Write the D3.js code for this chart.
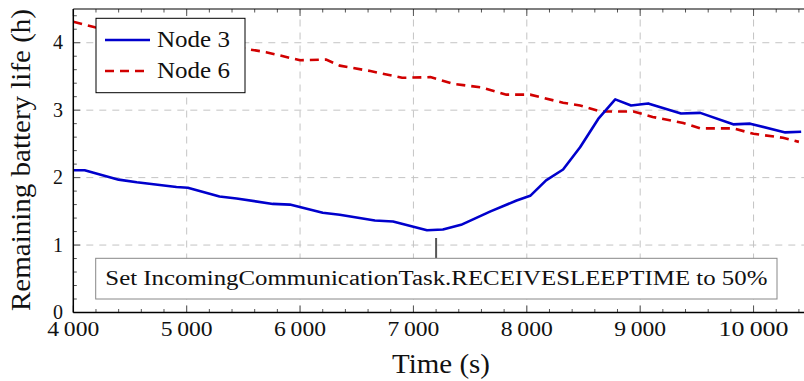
<!DOCTYPE html>
<html>
<head>
<meta charset="utf-8">
<script src="https://cdn.jsdelivr.net/npm/d3@7.9.0/dist/d3.min.js"></script>
<style>
  body { margin: 0; background: #fff; }
  svg { display: block; font-family: "Liberation Serif", serif; }
</style>
</head>
<body>
<svg id="chart" width="804" height="381"></svg>
<script>
// data (time in s, battery life in h)
const node3Time = [4000, 4100, 4400, 4560, 4910, 5010, 5290, 5440, 5760, 5910, 6200, 6350,
  6660, 6820, 7120, 7260, 7420, 7680, 7910, 8030, 8170, 8320, 8470, 8630, 8780, 8920,
  9070, 9360, 9530, 9820, 9970, 10280, 10420];
const node3Life = [2.11, 2.11, 1.97, 1.93, 1.86, 1.85, 1.72, 1.69, 1.61, 1.60, 1.48, 1.45,
  1.365, 1.35, 1.22, 1.23, 1.30, 1.50, 1.66, 1.73, 1.96, 2.12, 2.45, 2.87, 3.16, 3.07,
  3.10, 2.95, 2.96, 2.79, 2.80, 2.67, 2.68];

const node6Time = [4000, 4190, 4500, 4700, 5000, 5200, 5520, 5700, 6000, 6230, 6350, 6620,
  6900, 7150, 7350, 7590, 7820, 8030, 8320, 8470, 8650, 8940, 9110, 9380, 9530, 9820,
  10000, 10260, 10400];
const node6Life = [4.31, 4.23, 4.16, 4.12, 4.04, 4.00, 3.91, 3.86, 3.74, 3.75, 3.66, 3.58,
  3.48, 3.49, 3.39, 3.34, 3.23, 3.23, 3.11, 3.07, 2.98, 2.98, 2.90, 2.81, 2.73, 2.73,
  2.65, 2.59, 2.53];

const seriesNames = ["Node 3", "Node 6"];
const xTicks = [4000, 5000, 6000, 7000, 8000, 9000, 10000];
const yTicks = [0, 1, 2, 3, 4];
const noteTime = 7200;
const noteText = "Set IncomingCommunicationTask.RECEIVESLEEPTIME to 50%";

const svg = d3.select("#chart");
const x = d3.scaleLinear().domain([4000, 10445]).range([73.3, 804]);
const y = d3.scaleLinear().domain([0, 4.5]).range([312.5, 9]);

const loc = d3.formatLocale({ decimal: ".", thousands: "\u2009", grouping: [3], currency: ["", ""] });
const fmt = loc.format(",d");

const minorX = d3.range(4000, 10445, 200).filter(d => d % 1000 !== 0);
const minorY = d3.range(0, 4.5, 0.2).map(d => +d.toFixed(1)).filter(d => d % 1 !== 0);

// grid
const grid = svg.append("g").attr("stroke", "#c4c4c4").attr("stroke-width", 1).attr("stroke-dasharray", "7,6");
xTicks.slice(1).forEach(t => {
  grid.append("line").attr("x1", x(t)).attr("x2", x(t)).attr("y1", y(0)).attr("y2", y(4.5));
});
yTicks.slice(1).forEach(t => {
  grid.append("line").attr("x1", x(4000)).attr("x2", 804).attr("y1", y(t)).attr("y2", y(t));
});

// ticks (inward)
const ticks = svg.append("g").attr("stroke", "#555").attr("stroke-width", 1);
xTicks.forEach(t => {
  ticks.append("line").attr("x1", x(t)).attr("x2", x(t)).attr("y1", y(0)).attr("y2", y(0) - 7);
  ticks.append("line").attr("x1", x(t)).attr("x2", x(t)).attr("y1", y(4.5)).attr("y2", y(4.5) + 7);
});
minorX.forEach(t => {
  ticks.append("line").attr("x1", x(t)).attr("x2", x(t)).attr("y1", y(0)).attr("y2", y(0) - 3.5);
  ticks.append("line").attr("x1", x(t)).attr("x2", x(t)).attr("y1", y(4.5)).attr("y2", y(4.5) + 3.5);
});
yTicks.forEach(t => {
  ticks.append("line").attr("x1", x(4000)).attr("x2", x(4000) + 7).attr("y1", y(t)).attr("y2", y(t));
});
minorY.forEach(t => {
  ticks.append("line").attr("x1", x(4000)).attr("x2", x(4000) + 3.5).attr("y1", y(t)).attr("y2", y(t));
});

// lines
const line = d3.line().x(d => x(d[0])).y(d => y(d[1]));
const n6 = node6Time.map((t, i) => [t, node6Life[i]]);
const n3 = node3Time.map((t, i) => [t, node3Life[i]]);

svg.append("path").datum(n6).attr("d", line).attr("fill", "none")
  .attr("stroke", "#d10000").attr("stroke-width", 2.6).attr("stroke-dasharray", "9,6");
svg.append("path").datum(n3).attr("d", line).attr("fill", "none")
  .attr("stroke", "#0000cc").attr("stroke-width", 2.6).attr("stroke-linejoin", "round");

// axes frame
svg.append("line").attr("x1", x(4000)).attr("x2", 804).attr("y1", y(0)).attr("y2", y(0)).attr("stroke", "#000").attr("stroke-width", 1.5);
svg.append("line").attr("x1", x(4000)).attr("x2", 804).attr("y1", y(4.5)).attr("y2", y(4.5)).attr("stroke", "#000").attr("stroke-width", 1.2);
svg.append("line").attr("x1", x(4000)).attr("x2", x(4000)).attr("y1", y(0)).attr("y2", y(4.5)).attr("stroke", "#000").attr("stroke-width", 1.5);

// tick labels
svg.append("g").selectAll("text").data(xTicks).join("text")
  .attr("x", d => x(d)).attr("y", 336).attr("text-anchor", "middle")
  .attr("font-size", 20).attr("fill", "#111")
  .attr("textLength", d => d >= 10000 ? 70 : 52).attr("lengthAdjust", "spacingAndGlyphs")
  .text(d => fmt(d));
svg.append("g").selectAll("text").data(yTicks).join("text")
  .attr("x", 63).attr("y", d => y(d) + 6.5).attr("text-anchor", "end")
  .attr("font-size", 20).attr("fill", "#111").text(d => d);

// axis titles
svg.append("text").attr("x", 441).attr("y", 373).attr("text-anchor", "middle")
  .attr("font-size", 27).attr("fill", "#111")
  .attr("textLength", 98).attr("lengthAdjust", "spacingAndGlyphs").text("Time (s)");
svg.append("text").attr("transform", "translate(30,160) rotate(-90)").attr("text-anchor", "middle")
  .attr("font-size", 27).attr("fill", "#111")
  .attr("textLength", 302).attr("lengthAdjust", "spacingAndGlyphs").text("Remaining battery life (h)");

// annotation
const nx = x(noteTime);
svg.append("line").attr("x1", nx).attr("x2", nx).attr("y1", 238).attr("y2", 258)
  .attr("stroke", "#555").attr("stroke-width", 2);
svg.append("rect").attr("x", 95.7).attr("y", 258.3).attr("width", 777 - 95.7).attr("height", 299 - 258.3)
  .attr("fill", "#fff").attr("stroke", "#888").attr("stroke-width", 1);
svg.append("text").attr("x", (95.7 + 777) / 2).attr("y", 284.5).attr("text-anchor", "middle")
  .attr("font-size", 20).attr("fill", "#111")
  .attr("textLength", 662).attr("lengthAdjust", "spacingAndGlyphs").text(noteText);

// legend
const lg = svg.append("g");
lg.append("rect").attr("x", 96).attr("y", 18.3).attr("width", 149).attr("height", 74.4)
  .attr("fill", "#fff").attr("stroke", "#000").attr("stroke-width", 1);
const legendStyle = [
  { color: "#0000cc", dash: null },
  { color: "#d10000", dash: "9,6" }
];
seriesNames.forEach((name, i) => {
  const ly = 40 + i * 31;
  lg.append("line").attr("x1", 105).attr("x2", 150).attr("y1", ly).attr("y2", ly)
    .attr("stroke", legendStyle[i].color).attr("stroke-width", 2.6)
    .attr("stroke-dasharray", legendStyle[i].dash);
  lg.append("text").attr("x", 157).attr("y", ly + 7).attr("font-size", 23)
    .attr("fill", "#111").attr("textLength", 73).attr("lengthAdjust", "spacingAndGlyphs").text(name);
});
</script>
</body>
</html>
